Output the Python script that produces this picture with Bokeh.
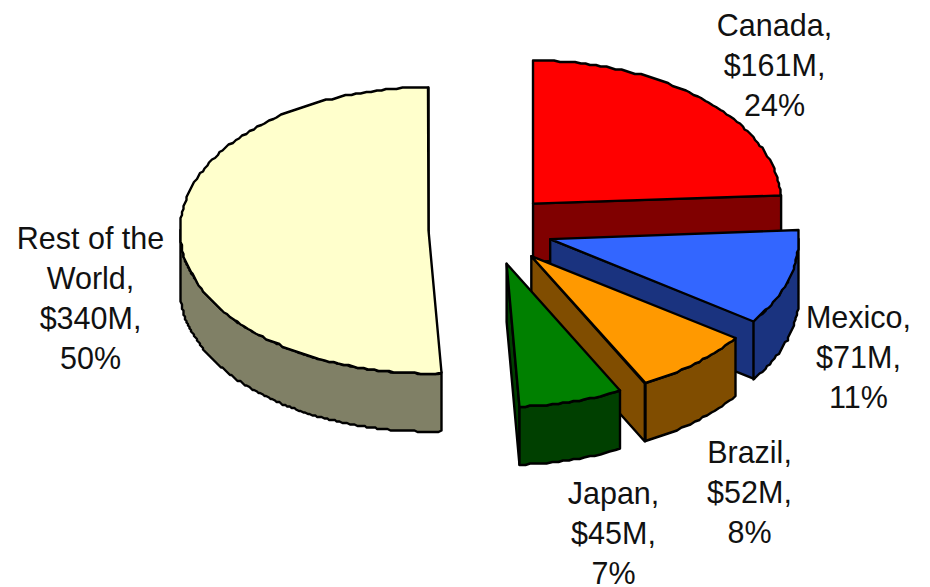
import numpy as np
from bokeh.plotting import figure
from bokeh.models import Range1d
from bokeh.core.properties import value
from bokeh.embed import file_html
from bokeh.resources import INLINE

# --- chart data ---
names = ["Canada", "Mexico", "Brazil", "Japan", "Rest of the World"]
sales = [161, 71, 52, 45, 340]
shares = [24, 11, 8, 7, 50]

# --- styling and layout ---
tops = ["#FF0000", "#3366FF", "#FF9900", "#008000", "#FFFFCC"]
walls = ["#800000", "#1A337F", "#804D00", "#004000", "#808066"]
name_lines = [["Canada,"], ["Mexico,"], ["Brazil,"], ["Japan,"], ["Rest of the", "World,"]]
label_x = [774, 858, 749, 613, 90]
label_first_baseline = [35, 327, 462, 503, 248]
LINE_GAP = 40
FONT_PX = 30.5
CX, CY, RX, RY, DEPTH, EX, EY = 490, 229, 248.5, 143, 58, 62, 35.5
GRID = 1.5

p = figure(width=930, height=587, output_backend="svg", toolbar_location=None,
           x_range=Range1d(0, 930), y_range=Range1d(587, 0),
           x_axis_type=None, y_axis_type=None, min_border=0,
           outline_line_color=None, background_fill_color="white")
p.grid.visible = False


def snap(a):
    return np.round(np.asarray(a, dtype=float) / GRID) * GRID


def arc(ax, ay, t0, t1, n):
    t = np.linspace(t0, t1, n)
    return snap(ax + RX * np.sin(t)), snap(ay - RY * np.cos(t))


def poly(xs, ys, color):
    p.patch(list(xs), list(ys), fill_color=color, line_color="black",
            line_width=2.4, line_join="round")


total = sum(sales)
ang = np.cumsum([0] + sales) / total * 2 * np.pi
slices = []
for i in range(len(sales)):
    a0, a1 = ang[i], ang[i + 1]
    mid = (a0 + a1) / 2
    slices.append((i, a0, a1, CX + EX * np.sin(mid), CY - EY * np.cos(mid)))

# painter's order: the big back slice first, then clockwise from Canada
for i, a0, a1, ax, ay in [slices[4]] + slices[:4]:
    n = max(4, int((a1 - a0) / np.radians(1.2)))
    ex = ax + RX * np.sin(a1)
    ey = ay - RY * np.cos(a1)
    # radial wall along the end edge
    poly([ax, ex, ex, ax], [ay, ey, ey + DEPTH, ay + DEPTH], walls[i])
    # outer curved wall: only the part that faces the viewer
    w0, w1 = max(a0, np.pi / 2), min(a1, np.pi * 1.5)
    if w1 > w0:
        wx, wy = arc(ax, ay, w0, w1, n)
        poly(np.r_[wx, wx[::-1]], np.r_[wy, wy[::-1] + DEPTH], walls[i])
    # top face
    tx, ty = arc(ax, ay, a0, a1, n)
    poly(np.r_[ax, tx], np.r_[ay, ty], tops[i])

# labels
lx, ly, lt = [], [], []
for i in range(len(names)):
    lines = name_lines[i] + [f"${sales[i]}M,", f"{shares[i]}%"]
    for j, s in enumerate(lines):
        lx.append(label_x[i])
        ly.append(label_first_baseline[i] + j * LINE_GAP - 0.35 * FONT_PX)
        lt.append(s)
p.text(lx, ly, text=lt, text_font=value("Liberation Sans"), text_font_size=f"{FONT_PX}px",
       text_align="center", text_baseline="middle", text_color="#111111")

open("out.html", "w").write(file_html(p, INLINE))
